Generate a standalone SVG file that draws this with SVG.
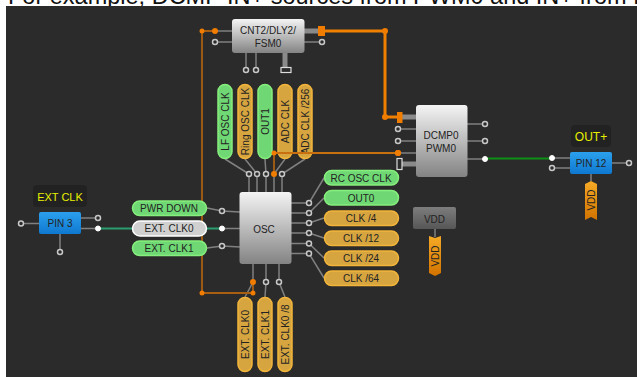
<svg xmlns="http://www.w3.org/2000/svg" width="637" height="377" viewBox="0 0 637 377">
<style>
text{font-family:"Liberation Sans",Arial,sans-serif;font-size:10px;fill:#222;text-anchor:middle;dominant-baseline:central}
.w{stroke:#808080;stroke-width:1.5;fill:none}
.o{stroke:#a85f12;stroke-width:1.8;fill:none}
.O{stroke:#f08000;stroke-width:3;fill:none}
.T{stroke:#8a8a8a;stroke-width:5;fill:none}
.h{fill:#2b2b2b;stroke:#c8c8c8;stroke-width:1.5}
.f{fill:#fff;stroke:#fff;stroke-width:1}
.d{fill:#f07c00}
.g{fill:#6fd874;stroke:#86ee7c;stroke-width:1.5}
.y{fill:#d6a540;stroke:#f2b53a;stroke-width:1.5}
.sq{fill:#2b2b2b;stroke:#ddd;stroke-width:1.2}
.yt{fill:#e8f000;font-size:11px}
</style>
<defs>
<linearGradient id="bl" x1="0" y1="0" x2="0" y2="1"><stop offset="0" stop-color="#f4f4f4"/><stop offset="1" stop-color="#838383"/></linearGradient>
<linearGradient id="gr" x1="0" y1="0" x2="0" y2="1"><stop offset="0" stop-color="#7d7d7d"/><stop offset="1" stop-color="#565656"/></linearGradient>
<linearGradient id="pin" x1="0" y1="0" x2="0" y2="1"><stop offset="0" stop-color="#2ba0ee"/><stop offset="1" stop-color="#0f78d0"/></linearGradient>
<linearGradient id="tag" x1="0" y1="0" x2="0" y2="1"><stop offset="0" stop-color="#f5aa25"/><stop offset="1" stop-color="#d27300"/></linearGradient>
</defs>
<rect width="637" height="377" fill="#fff"/>
<text x="8" y="3.500" style="font-size:23.500px;fill:#111;text-anchor:start;dominant-baseline:auto">For example, DCMP IN+ sources from PWM0 and IN+ from I</text>
<rect x="6" y="6" width="631" height="371" fill="#2b2b2b"/>
<g id="connectors">
<path class="w" d="M215 31H232M215 42H232M304 42H322M246 53V70M256 53V70"/>
<path class="T" d="M304 31H318M285 53V67M402 117H416M402 164H416"/>
<path class="w" d="M398 129H416M398 141H416M398 153H416M467 124H485M467 141H485M467 159H485M552 158H570M552 168H570M612 163H629M591 174V181M81 218H98M81 228.500H98M21 223.500H39M60 234V252M435 229V237"/>
<path class="w" d="M207 208L222 211L240 212M222 228.500H240M207 248L222 246L240 247M225 159L249 174V192M245 159L257 174V192M265 159L266 174V192M285 159L274 174V192M305 159L282 174V192M291 203H309L324 178M291 213H309L324 198M291 223H309L324 218M291 233H309L324 238M291 243.500H309L324 258M291 253.500H309L324 278M253 264V282L245 297M266 264V282L265 297M279 264V282L285 297"/>
<path class="o" d="M202 31V293H253V282M202 31H215M274 174V153H398"/>
<path class="O" d="M325 31H385V117H397"/>
<path d="M485 158.500H552" stroke="#0f8f18" stroke-width="2" fill="none"/>
<path d="M98 228.500H132M207 228.500H222" stroke="#2a9d70" stroke-width="2" fill="none"/>
<g class="d"><circle cx="202" cy="31" r="2.500"/><circle cx="215" cy="31" r="3"/><circle cx="385" cy="31" r="3"/><circle cx="385" cy="117" r="3"/><circle cx="398" cy="153" r="3"/><circle cx="274" cy="174" r="3"/><circle cx="202" cy="293" r="2.500"/><circle cx="253" cy="293" r="2.500"/><circle cx="253" cy="282" r="3"/><rect x="318" y="26" width="7" height="10"/><rect x="397" y="112" width="5.500" height="11"/></g>
<g class="h"><circle cx="215" cy="42" r="2.500"/><circle cx="322" cy="42" r="2.500"/><circle cx="246" cy="70" r="2.500"/><circle cx="256" cy="70" r="2.500"/><circle cx="398" cy="129" r="2.500"/><circle cx="398" cy="141" r="2.500"/><circle cx="485" cy="124" r="2.500"/><circle cx="485" cy="141" r="2.500"/><circle cx="552" cy="168" r="2.500"/><circle cx="629" cy="163" r="2.500"/><circle cx="21" cy="223.500" r="2.500"/><circle cx="98" cy="218" r="2.500"/><circle cx="60" cy="252" r="2.500"/><circle cx="222" cy="211" r="2.500"/><circle cx="222" cy="246" r="2.500"/><circle cx="249" cy="174" r="2.500"/><circle cx="257" cy="174" r="2.500"/><circle cx="266" cy="174" r="2.500"/><circle cx="282" cy="174" r="2.500"/><circle cx="309" cy="203" r="2.500"/><circle cx="309" cy="213" r="2.500"/><circle cx="309" cy="223" r="2.500"/><circle cx="309" cy="233" r="2.500"/><circle cx="309" cy="243.500" r="2.500"/><circle cx="309" cy="253.500" r="2.500"/><circle cx="266" cy="282" r="2.500"/><circle cx="279" cy="282" r="2.500"/></g>
<g class="f"><circle cx="485" cy="159" r="2.500"/><circle cx="552" cy="158" r="2.500"/><circle cx="98" cy="228.500" r="2.500"/><circle cx="222" cy="228.500" r="2.500"/></g>
<rect class="sq" x="281" y="67.500" width="10" height="5"/>
<rect class="sq" x="397" y="158.500" width="5" height="11"/>
</g>
<g id="cnt"><rect x="232" y="19" width="72.500" height="34" rx="3" fill="url(#bl)"/><text x="268" y="30">CNT2/DLY2/</text><text x="268" y="43">FSM0</text></g>
<g id="dcmp"><rect x="416" y="105" width="51.500" height="72" rx="3" fill="url(#bl)"/><text x="441" y="135">DCMP0</text><text x="441" y="148">PWM0</text></g>
<g id="osc"><rect x="239.500" y="192" width="52" height="72" rx="3" fill="url(#bl)"/><text x="264" y="229">OSC</text></g>
<g id="pin3"><rect x="33" y="185" width="54" height="22" rx="4" fill="#222"/><text class="yt" x="60" y="196.500">EXT CLK</text><rect x="39" y="212" width="42" height="22" rx="2" fill="url(#pin)"/><text x="60" y="223.500">PIN 3</text></g>
<g id="pin12"><rect x="571" y="125" width="40" height="22" rx="4" fill="#222"/><text class="yt" x="591" y="136.500" style="font-size:12px">OUT+</text><rect x="570" y="152" width="42" height="22" rx="2" fill="url(#pin)"/><text x="591" y="163.500">PIN 12</text><path d="M585 184L591 181L597 184V220L591 217L585 220Z" fill="url(#tag)"/><text transform="translate(591 200) rotate(-90)">VDD</text></g>
<g id="vdd"><rect x="413" y="207" width="43" height="22" rx="2" fill="url(#gr)"/><text x="434.500" y="219">VDD</text><path d="M429 236L435 238L441 236V273L435 276L429 273Z" fill="url(#tag)"/><text transform="translate(435 256) rotate(-90)">VDD</text></g>
<g id="pwr-down"><rect class="g" x="132.500" y="201" width="74" height="14.500" rx="7.200"/><text x="169" y="208.500">PWR DOWN</text></g>
<g id="ext-clk0-in"><rect x="132.500" y="221" width="74" height="15" rx="7.500" fill="#d0d0d0" stroke="#fff" stroke-width="1.500"/><text x="169" y="228.500">EXT. CLK0</text></g>
<g id="ext-clk1-in"><rect class="g" x="132.500" y="241" width="74" height="14.500" rx="7.200"/><text x="169" y="248.500">EXT. CLK1</text></g>
<g id="rc-osc"><rect class="g" x="324.500" y="170.500" width="74" height="14.500" rx="7.200"/><text x="361" y="178">RC OSC CLK</text></g>
<g id="out0"><rect class="g" x="324.500" y="190.500" width="74" height="14.500" rx="7.200"/><text x="361" y="198">OUT0</text></g>
<g id="clk4"><rect class="y" x="324.500" y="211" width="74" height="14.500" rx="7.200"/><text x="361" y="218.500">CLK /4</text></g>
<g id="clk12"><rect class="y" x="324.500" y="231" width="74" height="14.500" rx="7.200"/><text x="361" y="238.500">CLK /12</text></g>
<g id="clk24"><rect class="y" x="324.500" y="251" width="74" height="14.500" rx="7.200"/><text x="361" y="258.500">CLK /24</text></g>
<g id="clk64"><rect class="y" x="324.500" y="271" width="74" height="14.500" rx="7.200"/><text x="361" y="278.500">CLK /64</text></g>
<g id="lf-osc"><rect class="g" x="218" y="84.500" width="14" height="74" rx="7"/><text transform="translate(225 121.500) rotate(-90)">LF OSC CLK</text></g>
<g id="ring-osc"><rect class="y" x="238" y="84.500" width="14" height="74" rx="7"/><text transform="translate(245 121.500) rotate(-90)">Ring OSC CLK</text></g>
<g id="out1"><rect class="g" x="258" y="84.500" width="14" height="74" rx="7"/><text transform="translate(265 121.500) rotate(-90)">OUT1</text></g>
<g id="adc"><rect class="y" x="278" y="84.500" width="14" height="74" rx="7"/><text transform="translate(285 121.500) rotate(-90)">ADC CLK</text></g>
<g id="adc256"><rect class="y" x="298" y="84.500" width="14" height="74" rx="7"/><text transform="translate(305 121.500) rotate(-90)">ADC CLK /256</text></g>
<g id="ext-clk0"><rect class="y" x="238" y="297.500" width="14" height="74" rx="7"/><text transform="translate(245 334.500) rotate(-90)">EXT. CLK0</text></g>
<g id="ext-clk1"><rect class="y" x="258" y="297.500" width="14" height="74" rx="7"/><text transform="translate(265 334.500) rotate(-90)">EXT. CLK1</text></g>
<g id="ext-clk08"><rect class="y" x="278" y="297.500" width="14" height="74" rx="7"/><text transform="translate(285 334.500) rotate(-90)">EXT. CLK0 /8</text></g>
<path d="M274 153H398" stroke="#c8700f" stroke-width="1.800" fill="none"/>
<circle class="d" cx="274" cy="153" r="2.500"/>
<circle class="d" cx="398" cy="153" r="3"/>
</svg>
